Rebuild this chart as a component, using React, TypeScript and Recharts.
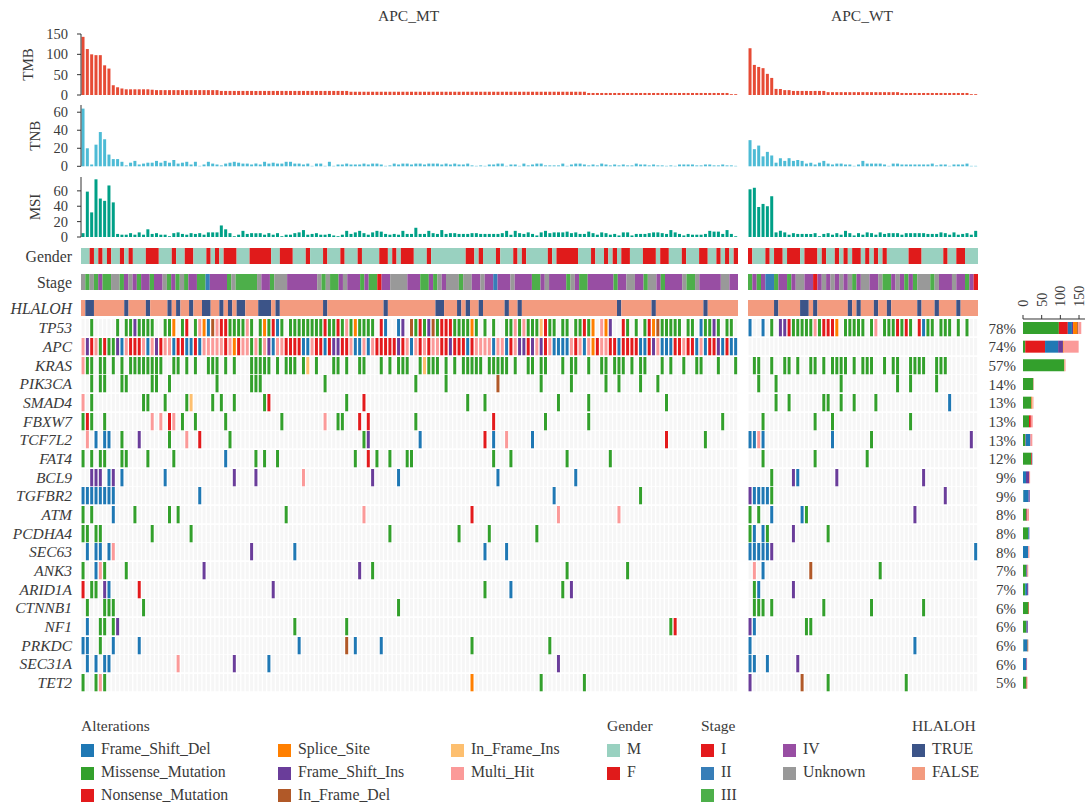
import { BarChart, Bar, Cell, XAxis, YAxis } from "recharts";

const FONT = "Liberation Serif";
const INK = "#3a3a3a";

const N_MT = 152;
const N_WT = 53;

const ALT_COLORS: Record<string, string> = {
  D: "#1F78B4", M: "#33A02C", N: "#E31A1C", S: "#FF7F00",
  I: "#6A3D9A", B: "#B15928", A: "#FDBF6F", H: "#FB9A99",
};
const GENDER_COLORS: Record<string, string> = { M: "#99D1C0", F: "#E01B1B" };
const STAGE_COLORS: Record<string, string> = {
  "1": "#E41A1C", "2": "#377EB8", "3": "#4DAF4A", "4": "#984EA3", U: "#999999",
};
const LOH_COLORS: Record<string, string> = { T: "#3C5488", F: "#F39B7F" };

const TMB_MT = [
  143,113,100,98,98,73,65,24,19,16,
  14,14,14,14,14,14,13,12,12,12,
  12,12,12,12,12,12,12,12,12,12,
  12,12,10,10,10,10,10,10,10,10,
  10,10,10,10,10,10,10,10,10,10,
  10,10,10,10,10,10,10,10,10,10,
  10,10,8,8,8,8,8,8,8,8,
  8,8,8,8,8,8,8,8,8,8,
  8,8,8,8,8,8,8,8,8,8,
  8,8,8,8,8,8,8,8,8,8,
  8,8,8,8,8,8,8,8,8,8,
  8,8,8,8,8,8,8,5,5,5,
  5,5,5,5,5,5,5,5,5,5,
  5,5,5,5,5,5,5,5,5,5,
  5,5,5,5,5,5,5,5,5,5,
  2,2,
];
const TMB_WT = [
  115,74,69,66,52,42,15,15,12,12,
  10,10,10,10,10,10,10,10,7,7,
  7,7,7,7,7,7,7,7,7,7,
  7,7,7,7,7,5,5,5,5,5,
  5,5,5,5,5,5,5,5,5,5,
  5,2,2,
];
const TNB_MT = [
  64,20,2,24,38,30,13,8,8,5,
  1,4,6,2,3,4,4,6,4,6,
  4,7,3,4,5,2,5,0.5,2,5,
  3,2,1,3,4,5,4,3,3,2,
  3,2,5,3,4,3,3,5,5,3,
  3,2,3,0.5,3,3,0.5,5,0.5,2,
  2,3,2,2,2,3,2,3,3,2,
  0.5,1,3,2,3,3,2,3,3,2,
  3,3,3,2,3,2,3,2,2,3,
  1,0.5,1,0.5,2,2,3,3,0.5,2,
  2,0.5,3,1,2,3,3,1,1,1,
  1,3,0.5,2,3,3,2,1,2,1,
  3,2,1,2,1,2,1,1,3,2,
  2,1,2,1,1,0.5,1,0.5,2,2,
  2,2,1,1,2,2,1,1,2,1,
  1,0.5,
];
const TNB_WT = [
  29,19,23,11,16,12,4,9,6,9,
  6,7,6,3,4,2,4,6,3,2,
  3,3,2,2,0.5,2,6,3,3,3,
  3,2,0.5,3,3,2,2,2,2,2,
  2,2,3,1,2,2,0.5,2,2,2,
  3,0.5,0.5,
];
const MSI_MT = [
  5,59,32,75,50,47,67,45,4,3,
  3,5,3,6,3,10,4,5,3,3,
  1,5,6,4,3,5,4,5,3,6,
  6,6,15,10,5,1,3,8,4,5,
  5,5,3,5,3,5,1,3,3,5,
  6,9,3,4,5,3,3,4,2,1,
  3,8,4,6,8,5,3,6,8,7,
  4,3,4,3,8,4,4,12,4,4,
  8,5,4,9,4,5,5,4,4,4,
  5,5,4,4,4,4,4,5,8,3,
  8,5,4,6,4,2,6,8,5,6,
  6,6,7,5,6,4,4,7,5,3,
  6,5,3,4,2,6,6,2,4,4,
  4,5,6,6,5,4,9,6,4,2,
  4,3,3,3,4,8,7,7,4,9,
  4,1,
];
const MSI_WT = [
  62,64,39,43,40,53,6,8,6,3,
  5,4,4,4,4,5,1,4,5,3,
  5,3,8,5,2,5,3,6,5,3,
  6,4,5,5,5,3,5,5,5,5,
  5,4,4,4,6,5,3,6,3,4,
  5,3,8,
];

// annotation tracks: run lengths, alternating between the two values
const GENDER_RUNS_MT = [2,1,1,1,1,1,2,1,1,1,3,3,3,1,2,2,3,1,1,1,1,3,3,5,2,3,3,1,3,1,3,1,3,1,4,2,1,1,1,3,3,1,8,2,1,1,3,1,3,1,1,1,5,1,1,5,3,1,2,1,1,1,1,2,3,3,1,2,3,1,3,2,2,1,1,1,1,1];
const GENDER_RUNS_WT = [0,1,3,1,1,2,1,3,1,3,1,1,2,1,1,1,1,2,1,1,1,1,1,1,5,3,5,1,2,2,3];
const LOH_RUNS_MT = [1,2,7,1,4,1,4,1,1,1,2,1,2,2,2,1,1,1,1,2,3,3,1,1,10,1,13,1,11,2,3,1,1,1,2,1,5,1,2,1,22,1,7,1,11,1,7];
const LOH_RUNS_WT = [6,1,5,2,1,1,7,1,1,1,3,1,2,1,6,1,3,1,4,1,4];
const STAGE_MT = "U3U3433UU3 4U43 4 4 3 44 U3 4 3 U 3 44 33 2 4444 3 U 33333 U 44 3 UUU 4444444 U 3 U 33 4 U 444 3 4 33 1 44 UUUU 444 33 4 3 U 4 UUU 3 UU 44 U 44 2 444 U 4444 33 4 U 4444 3 U 4 33 444444 3 44 UU 44 3 UU 4 3 4444 U 33 U 44444 UU 44".replace(/ /g, "");
const STAGE_WT = "3434223 44 3 4 UU 44 1 4 U 4 U 4 U 4 U 3 4 UU 44 U 33 4 U 4 3 4 3 UUU 3 U 444 U 44 3 4 1".replace(/ /g, "");

const GENES = ["TP53","APC","KRAS","PIK3CA","SMAD4","FBXW7","TCF7L2","FAT4","BCL9","TGFBR2","ATM","PCDHA4","SEC63","ANK3","ARID1A","CTNNB1","NF1","PRKDC","SEC31A","TET2"];
const PERCENTS = ["78%","74%","57%","14%","13%","13%","13%","12%","9%","9%","8%","8%","8%","7%","7%","6%","6%","6%","6%","5%"];

const APC_MT_STR = "HINHMNMMID HNNNHDHINH HDNNDDNDHH HHHNHSNHHM HMHIDHHNNN NDDHNNDNII NNHDDHDHNN N NNINHDHN HNHHNNINNN DNHHHHDHHD NHIINIHINH DDDDHNHDHS NHHNNDNNNN DDNIHDDDNN HNNDHDNNID NDD".replace(/ /g, "");

const HITS_MT: string[] = [
  "M2 M8 M10 M11 I12 M13 M14 M15 M16 M19 M20 S21 M23 N24 M26 H27 S28 D29 B30 H31 N32 N33 M34 M35 M36 M37 H38 M39 M41 S42 M43 N44 D45 M46 M48 M49 M50 M51 M52 M53 M54 M55 N56 M57 M58 N59 M60 H61 M62 S63 M64 M65 M66 M67 N69 D70 D73 I74 B76 M77 N78 M79 I80 B81 M82 N83 N84 N85 M86 M87 M88 M89 S90 M91 M93 M95 M98 M99 H100 M101 H102 M103 M104 M105 A106 N107 M108 M109 M111 M112 M114 M115 N116 M117 S118 H120 S121 I122 N125 M126 M128 M130 N131 S132 B133 M134 M135 M136 M137 M138 M140 M141 D143 M144 M145 I146 M147 M149 M150",
  "",
  "H0 M1 M2 M4 M5 M7 M9 M11 M12 M13 M14 M15 M16 M17 M18 M21 M22 M24 M26 M29 M30 M31 M33 M35 M39 M40 M41 M42 M43 M45 M47 M48 M49 M51 A52 M54 M58 M59 M61 M64 M65 M69 M71 M73 M74 M75 M78 A79 M80 M81 M82 M84 M86 M88 M89 M90 M91 M92 M94 M95 M96 M97 M98 M100 M103 M104 M106 M107 M111 M113 M114 M117 M120 M121 M123 M124 M125 M127 M129 M130 M134 M136 M139 M142 M143 M147 M151",
  "M2 M4 M5 M9 M10 M16 M17 M20 M31 M39 M40 M41 M56 M77 M84 B96 M106 M113 M121 M124 M129 M133",
  "H0 M2 M14 M15 M19 M24 A25 M30 M32 M35 M42 N43 M61 N65 M89 M93 M110 M117 M135",
  "M0 N1 M2 M5 H16 H18 N20 H21 M23 M26 M33 M46 H56 M59 M60 N64 N66 M77 N95 M107 M117 M148",
  "H1 D3 D5 D6 M9 I13 M20 H24 N27 M34 M65 I66 D78 N93 D95 H98 D104 N135 M144",
  "M0 M2 M4 M5 M9 M10 M15 M21 D33 M40 M42 M45 M63 N66 M68 M71 M75 M76 M95 M99 M112 M122",
  "I2 I3 I4 D6 I7 D9 D19 I35 I40 H51 I67 D73 D96 D114",
  "D0 D1 D2 D3 D4 D5 D6 D7 D27 D109 M129",
  "M0 M2 D7 M12 M20 M22 M47 H65 N90 H110 H124",
  "M0 M1 M3 M4 M16 M25 M71 M87 M94 M105",
  "D1 D3 D4 D6 H7 I39 D49 D93 D98",
  "M0 D3 H4 M5 M10 I28 I64 M67 M112 M126",
  "N0 M2 M3 I5 D6 N13 I44 M93 D99 M111 I113",
  "M1 M5 M6 M7 M14 M73",
  "D1 M4 M5 M7 I8 M49 M61 M136 N137",
  "D0 D1 M4 D7 D13 D50 B61 D63 D69 M90 M108",
  "D1 D3 D5 D6 H22 I35 D43 I110",
  "M0 M3 H4 M5 S90 M106 M116",
];
const HITS_WT: string[] = [
  "D0 D3 M5 I7 I8 N9 M10 M11 M12 M13 M14 H15 M16 N17 N18 N19 S20 M22 M23 M24 M25 M26 M28 H29 M31 M32 M33 N34 M35 N36 M37 N39 D40 M41 M42 M44 M45 M46 M48 M50",
  "",
  "M1 M2 M5 M8 M9 M11 M14 M15 M17 M19 M20 M21 M22 M24 M26 M27 M28 M31 M33 M34 M37 M38 M39 M40 M43 M44 M45",
  "M2 M6 M21 M34 M37 M43",
  "M6 M9 M17 M18 M21 M24 M29 D46",
  "M3 M15 M19 M37",
  "D0 D1 H2 D3 D19 M28 I51",
  "M3 M15 M27",
  "M5 I10 D11 I20 I40",
  "I0 D1 D2 D3 D4 M5 I45",
  "M0 M2 D5 D12 M13 I38",
  "M0 D1 D3 M4 I10 M18",
  "D0 D1 D2 D3 D4 I5 D52",
  "H1 D3 B14 M30",
  "M1 D2 I10",
  "M1 M2 M3 M5 M17 M28 M40",
  "I0 D1 M13 M14",
  "D0 D38",
  "D0 D1 D4 I11",
  "I0 B12 M18 M36",
];

// right hand stacked bar counts per gene
const COUNT_M = [96,6,110,27,22,16,6,22,0,1,8,14,0,8,6,14,8,1,0,8];
const COUNT_N = [24,53,0,0,1,5,1,2,0,0,2,0,0,0,0,0,1,0,0,0];
const COUNT_D = [11,35,0,0,0,0,12,1,8,14,1,2,14,1,5,0,2,11,8,0];
const COUNT_I = [3,13,0,0,0,0,1,0,8,3,0,1,0,2,3,0,2,0,2,0];
const COUNT_S = [11,2,0,0,1,0,0,0,0,0,0,0,0,0,0,0,0,0,0,0];
const COUNT_B = [3,0,1,1,0,0,0,0,0,0,0,0,0,1,0,2,0,2,0,2];
const COUNT_A = [0,0,1,0,2,0,0,0,0,0,0,0,0,0,0,0,0,0,0,0];
const COUNT_H = [8,40,2,0,2,5,5,0,3,0,5,0,3,2,0,0,0,0,1,2];

const ALTERATION_LEGEND = [
  ["Frame_Shift_Del", "D", 81, 0], ["Missense_Mutation", "M", 81, 1], ["Nonsense_Mutation", "N", 81, 2],
  ["Splice_Site", "S", 278, 0], ["Frame_Shift_Ins", "I", 278, 1], ["In_Frame_Del", "B", 278, 2],
  ["In_Frame_Ins", "A", 451, 0], ["Multi_Hit", "H", 451, 1],
] as const;

function expandRuns(runs: number[], a: string, b: string) {
  const out: string[] = [];
  runs.forEach((n, i) => { for (let k = 0; k < n; k++) out.push(i % 2 === 0 ? a : b); });
  return out;
}

function hitsToCells(hits: string, n: number) {
  const out: string[] = new Array(n).fill("");
  hits.split(" ").filter(Boolean).forEach((t) => { out[+t.slice(1)] = t[0]; });
  return out;
}

function toRuns(cells: string[]) {
  const runs: { c: string; n: number }[] = [];
  cells.forEach((c) => {
    const last = runs[runs.length - 1];
    if (last && last.c === c) last.n += 1;
    else runs.push({ c, n: 1 });
  });
  return runs;
}

const yTick = { fontFamily: FONT, fontSize: 15, fill: INK };
const PAD = 4;

// Gender, Stage and HLALOH: one stacked bar per track, so that runs have no seams
function RunTrack({ cells, colors, left, top, width, height, label, italic }: {
  cells: string[]; colors: Record<string, string>; left: number; top: number; width: number; height: number;
  label?: string; italic?: boolean;
}) {
  const runs = toRuns(cells);
  const row: Record<string, string | number> = { label: label || "" };
  runs.forEach((r, i) => { row["r" + i] = r.n; });
  return (
    <div style={{ position: "absolute", left, top: top - PAD }}>
      <BarChart layout="vertical" width={width} height={height + 2 * PAD} data={[row]} barCategoryGap={0}
        margin={{ top: PAD, right: 0, bottom: PAD, left: 0 }}>
        <XAxis type="number" hide domain={[0, cells.length]} />
        {label ? (
          <YAxis type="category" dataKey="label" width={81} axisLine={false} tickLine={false} tickSize={0} tickMargin={9} interval={0}
            tick={{ ...yTick, fontSize: 15.8, fontStyle: italic ? "italic" : "normal" }} />
        ) : (
          <YAxis type="category" dataKey="label" hide />
        )}
        {runs.map((r, i) => (
          <Bar key={i} dataKey={"r" + i} stackId="run" fill={colors[r.c]} isAnimationActive={false} />
        ))}
      </BarChart>
    </div>
  );
}

function GeneRow({ cells, left, top, width, height, label }: {
  cells: string[]; left: number; top: number; width: number; height: number; label?: string;
}) {
  const data = cells.map((c, i) => ({ i, v: 1, c }));
  return (
    <div style={{ position: "absolute", left, top: top - PAD }}>
      <BarChart width={width} height={height + 2 * PAD} data={data} margin={{ top: PAD, right: 0, bottom: PAD, left: 0 }} barCategoryGap="12%">
        <XAxis dataKey="i" hide />
        {label ? (
          <YAxis width={81} domain={[0, 1]} ticks={[0.5]} interval={0} axisLine={false} tickLine={false} tickSize={0} tickMargin={9}
            tickFormatter={() => label} tick={{ ...yTick, fontSize: 15.5, fontStyle: "italic" }} />
        ) : (
          <YAxis hide domain={[0, 1]} />
        )}
        <Bar dataKey="v" isAnimationActive={false}>
          {data.map((d) => (
            <Cell key={d.i} fill={d.c ? ALT_COLORS[d.c] : "#f6f6f6"} />
          ))}
        </Bar>
      </BarChart>
    </div>
  );
}

function ValueBars({ values, color, top, height, domain, ticks, title, titleDx, left, width }: {
  values: number[]; color: string; top: number; height: number; domain: number; ticks?: number[];
  title?: string; titleDx?: number; left: number; width: number;
}) {
  const data = values.map((v, i) => ({ i, v }));
  return (
    <div style={{ position: "absolute", left, top: top - 10 }}>
      <BarChart width={width} height={height + 20} data={data} margin={{ top: 10, right: 0, bottom: 10, left: 0 }} barCategoryGap="12%">
        <XAxis dataKey="i" hide />
        {ticks ? (
          <YAxis width={81} domain={[0, domain]} ticks={ticks} interval={0} stroke="#333" tickSize={4} tickMargin={9}
            tick={{ ...yTick, fontSize: 14.5 }}
            label={{ value: title, angle: -90, position: "center", dx: titleDx, style: { fontFamily: FONT, fontSize: 15, fill: INK } }} />
        ) : (
          <YAxis hide domain={[0, domain]} />
        )}
        <Bar dataKey="v" fill={color} isAnimationActive={false} />
      </BarChart>
    </div>
  );
}

function CountTick({ x, payload }: any) {
  return (
    <text transform={`translate(${x + 5},36.7) rotate(-90)`} fontFamily={FONT} fontSize={14} fill={INK}>
      {payload.value}
    </text>
  );
}

function Swatch({ x, y, color, text }: { x: number; y: number; color: string; text: string }) {
  return (
    <>
      <div style={{ position: "absolute", left: x, top: y, width: 13, height: 13, background: color }} />
      <div style={{ position: "absolute", left: x + 20, top: y - 3.5, fontFamily: FONT, fontSize: 15.8, lineHeight: "18px", color: INK, whiteSpace: "nowrap" }}>{text}</div>
    </>
  );
}

function Heading({ x, y, text }: { x: number; y: number; text: string }) {
  return <div style={{ position: "absolute", left: x, top: y, fontFamily: FONT, fontSize: 15.5, lineHeight: "18px", color: INK, whiteSpace: "nowrap" }}>{text}</div>;
}

const ROW_TOP = 319.3;
const ROW_PITCH = 18.67;
const LEGEND_Y = [743.5, 766.5, 789];

export default function App() {
  const countData = GENES.map((gene, i) => ({
    gene, M: COUNT_M[i], N: COUNT_N[i], D: COUNT_D[i], I: COUNT_I[i],
    S: COUNT_S[i], B: COUNT_B[i], A: COUNT_A[i], H: COUNT_H[i],
  }));
  return (
    <div style={{ position: "absolute", left: 0, top: 0, width: 1088, height: 807, background: "#fff", overflow: "hidden" }}>
      <Heading x={378} y={7} text="APC_MT" />
      <Heading x={831} y={7} text="APC_WT" />

      <ValueBars values={TMB_MT} color="#E64B35" top={34} height={61} domain={150} ticks={[0, 50, 100, 150]} title="TMB" titleDx={-13} left={0} width={738} />
      <ValueBars values={TNB_MT} color="#4DBBD5" top={105} height={61.3} domain={68} ticks={[0, 20, 40, 60]} title="TNB" titleDx={-5.5} left={0} width={738} />
      <ValueBars values={MSI_MT} color="#00A087" top={177.3} height={60} domain={78} ticks={[0, 20, 40, 60]} title="MSI" titleDx={-5.5} left={0} width={738} />
      <ValueBars values={TMB_WT} color="#E64B35" top={34} height={61} domain={150} left={748} width={230} />
      <ValueBars values={TNB_WT} color="#4DBBD5" top={105} height={61.3} domain={68} left={748} width={230} />
      <ValueBars values={MSI_WT} color="#00A087" top={177.3} height={60} domain={78} left={748} width={230} />

      <RunTrack cells={expandRuns(GENDER_RUNS_MT, "M", "F")} colors={GENDER_COLORS} left={0} top={248} width={738} height={16} label="Gender" />
      <RunTrack cells={STAGE_MT.split("")} colors={STAGE_COLORS} left={0} top={274} width={738} height={16} label="Stage" />
      <RunTrack cells={expandRuns(LOH_RUNS_MT, "F", "T")} colors={LOH_COLORS} left={0} top={300} width={738} height={16} label="HLALOH" italic />
      <RunTrack cells={expandRuns(GENDER_RUNS_WT, "M", "F")} colors={GENDER_COLORS} left={748} top={248} width={230} height={16} />
      <RunTrack cells={STAGE_WT.split("")} colors={STAGE_COLORS} left={748} top={274} width={230} height={16} />
      <RunTrack cells={expandRuns(LOH_RUNS_WT, "F", "T")} colors={LOH_COLORS} left={748} top={300} width={230} height={16} />

      {GENES.map((gene, i) => (
        <GeneRow key={gene} cells={gene === "APC" ? APC_MT_STR.split("") : hitsToCells(HITS_MT[i], N_MT)}
          left={0} top={ROW_TOP + i * ROW_PITCH} width={738} height={17.3} label={gene} />
      ))}
      {GENES.map((gene, i) => (
        <GeneRow key={gene} cells={hitsToCells(HITS_WT[i], N_WT)}
          left={748} top={ROW_TOP + i * ROW_PITCH} width={230} height={17.3} />
      ))}

      <div style={{ position: "absolute", left: 970, top: 270 }}>
        <BarChart layout="vertical" width={118} height={422.4} data={countData} margin={{ top: 0, right: 3, bottom: 0, left: 0 }}>
          <XAxis type="number" orientation="top" height={49} domain={[0, 166]} ticks={[0, 50, 100, 150]} interval={0}
            stroke="#333" tickSize={4} tick={<CountTick />} />
          <YAxis type="category" dataKey="gene" width={53} axisLine={false} tickLine={false} tickSize={0} tickMargin={7} interval={0}
            tickFormatter={(_, i) => PERCENTS[i]} tick={yTick} />
          {["M", "N", "D", "I", "S", "B", "A", "H"].map((k) => (
            <Bar key={k} dataKey={k} stackId="alt" barSize={12} fill={ALT_COLORS[k]} isAnimationActive={false} />
          ))}
        </BarChart>
      </div>

      <Heading x={81} y={717} text="Alterations" />
      {ALTERATION_LEGEND.map(([text, key, x, row]) => (
        <Swatch key={key} x={x} y={LEGEND_Y[row]} color={ALT_COLORS[key]} text={text} />
      ))}
      <Heading x={607} y={717} text="Gender" />
      <Swatch x={607} y={LEGEND_Y[0]} color={GENDER_COLORS.M} text="M" />
      <Swatch x={607} y={LEGEND_Y[1]} color={GENDER_COLORS.F} text="F" />
      <Heading x={701} y={717} text="Stage" />
      <Swatch x={701} y={LEGEND_Y[0]} color={STAGE_COLORS["1"]} text="I" />
      <Swatch x={701} y={LEGEND_Y[1]} color={STAGE_COLORS["2"]} text="II" />
      <Swatch x={701} y={LEGEND_Y[2]} color={STAGE_COLORS["3"]} text="III" />
      <Swatch x={783} y={LEGEND_Y[0]} color={STAGE_COLORS["4"]} text="IV" />
      <Swatch x={783} y={LEGEND_Y[1]} color={STAGE_COLORS.U} text="Unknown" />
      <Heading x={912} y={717} text="HLALOH" />
      <Swatch x={912} y={LEGEND_Y[0]} color={LOH_COLORS.T} text="TRUE" />
      <Swatch x={912} y={LEGEND_Y[1]} color={LOH_COLORS.F} text="FALSE" />
    </div>
  );
}
